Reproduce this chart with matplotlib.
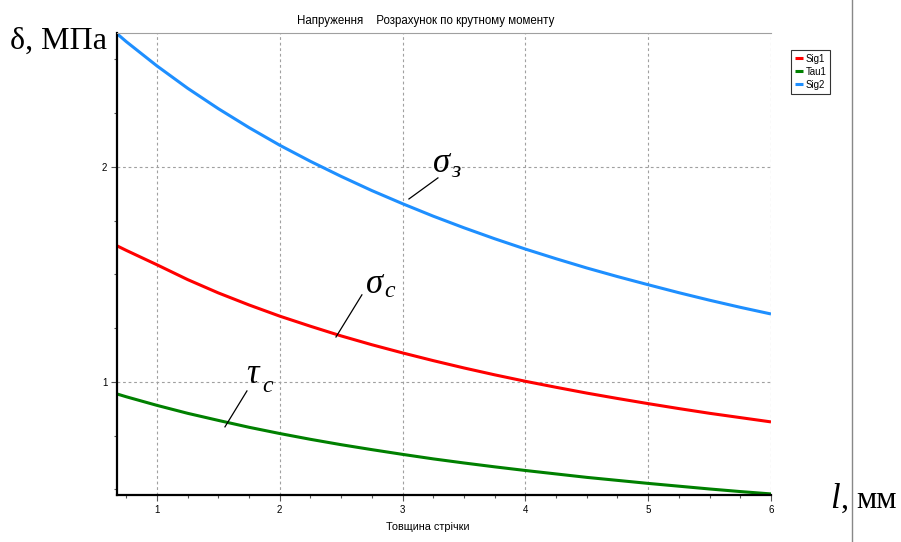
import numpy as np
import matplotlib
matplotlib.use('Agg')
import matplotlib.pyplot as plt
from matplotlib.lines import Line2D
from matplotlib.ticker import MultipleLocator

# values
thick = [0.675, 0.75, 1.0, 1.25, 1.5, 1.75, 2.0, 2.25, 2.5, 2.75, 3.0, 3.25,
         3.5, 3.75, 4.0, 4.25, 4.5, 4.75, 5.0, 5.25, 5.5, 5.75, 6.0]
sig1 = [1.633, 1.612, 1.545, 1.476, 1.414, 1.358, 1.306, 1.259, 1.214, 1.173, 1.135, 1.099,
        1.065, 1.033, 1.003, 0.975, 0.948, 0.923, 0.899, 0.876, 0.854, 0.834, 0.814]
tau1 = [0.944, 0.931, 0.891, 0.854, 0.821, 0.789, 0.760, 0.733, 0.708, 0.685, 0.663, 0.642,
        0.623, 0.605, 0.588, 0.572, 0.556, 0.542, 0.528, 0.515, 0.502, 0.490, 0.479]
sig2 = [2.620, 2.583, 2.470, 2.366, 2.271, 2.183, 2.101, 2.026, 1.956, 1.890, 1.829, 1.771,
        1.717, 1.666, 1.618, 1.573, 1.530, 1.490, 1.452, 1.415, 1.380, 1.347, 1.316]

series_names = ['Sig1', 'Tau1', 'Sig2']
series_colors = ['#ff0000', '#008000', '#1e8fff']
x_ticks = [1, 2, 3, 4, 5, 6]
y_ticks = [1, 2]

title = 'Напруження    Розрахунок по крутному моменту'
xlabel = 'Товщина стрічки'

plt.rcParams['font.family'] = ['Liberation Sans', 'DejaVu Sans']

W, H = 901, 542
fig = plt.figure(figsize=(W / 100, H / 100), dpi=100)
ax = fig.add_axes([117 / W, 1 - 495 / H, (771 - 117) / W, (495 - 33) / H])

for vals, name, col in zip([sig1, tau1, sig2], series_names, series_colors):
    ax.plot(thick, vals, color=col, lw=2.2, label=name, solid_capstyle='butt')

ax.set_xlim(0.675, 6)
ax.set_ylim(0.474, 2.623)
ax.set_xticks(x_ticks)
ax.set_yticks(y_ticks)
ax.xaxis.set_minor_locator(MultipleLocator(0.25))
ax.yaxis.set_minor_locator(MultipleLocator(0.25))
ax.tick_params(which='major', length=4, width=0.8, color='#555555', labelsize=7, pad=3)
ax.tick_params(which='minor', length=2.5, width=0.8, color='#555555')
ax.grid(True, which='major', color='#a0a0a0', lw=0.8, linestyle=(0, (2.5, 2.5)))

for s in ['left', 'bottom']:
    ax.spines[s].set_linewidth(1.6)
    ax.spines[s].set_color('black')
ax.spines['right'].set_visible(False)
ax.spines['top'].set_color('#a0a0a0')
ax.spines['top'].set_linewidth(0.8)

fig.text(426 / W, 1 - 21 / H, title, ha='center', va='center', fontsize=8.3)
fig.text(428 / W, 1 - 527 / H, xlabel, ha='center', va='center', fontsize=7.8)

leg = ax.legend(loc='upper left', bbox_to_anchor=(791 / W, 1 - 50 / H),
                bbox_transform=fig.transFigure, fontsize=7, frameon=True,
                fancybox=False, handlelength=0.8, handletextpad=0.3,
                labelspacing=0.3, borderpad=0.4, borderaxespad=0)
leg.get_frame().set_edgecolor('black')
leg.get_frame().set_linewidth(0.8)

# axis captions in serif font
serif = ['Liberation Serif', 'DejaVu Serif']
fig.text(10 / W, 1 - 49 / H, 'δ, МПа', family=serif, fontsize=23, ha='left', va='baseline')
fig.text(830 / W, 1 - 508 / H, 'l', family=serif, style='italic', fontsize=25, ha='left', va='baseline')
fig.text(841 / W, 1 - 508 / H, ',', family=serif, fontsize=23, ha='left', va='baseline')
fig.text(856 / W, 1 - 508 / H, 'мм', family=serif, fontsize=23, ha='left', va='baseline')
fig.add_artist(Line2D([852 / W, 852 / W], [0, 1], color='#888888', lw=1))

# curve labels
labels = [
    ('σ', 'з', (3.052, 1.851), (3.288, 1.949), (3.25, 1.977), (3.40, 1.953)),
    ('σ', 'c', (2.458, 1.209), (2.669, 1.405), (2.70, 1.414), (2.85, 1.395)),
    ('τ', 'c', (1.554, 0.791), (1.733, 0.958), (1.73, 0.995), (1.86, 0.953)),
]
for main, sub, p0, p1, tp, sp in labels:
    ax.plot([p0[0], p1[0]], [p0[1], p1[1]], color='black', lw=0.9)
    ax.text(tp[0], tp[1], main, family=serif, style='italic', fontsize=25, ha='left', va='baseline')
    ax.text(sp[0], sp[1], sub, family=serif, style='italic', fontsize=17, ha='left', va='baseline')

fig.savefig('out.png', dpi=100)
